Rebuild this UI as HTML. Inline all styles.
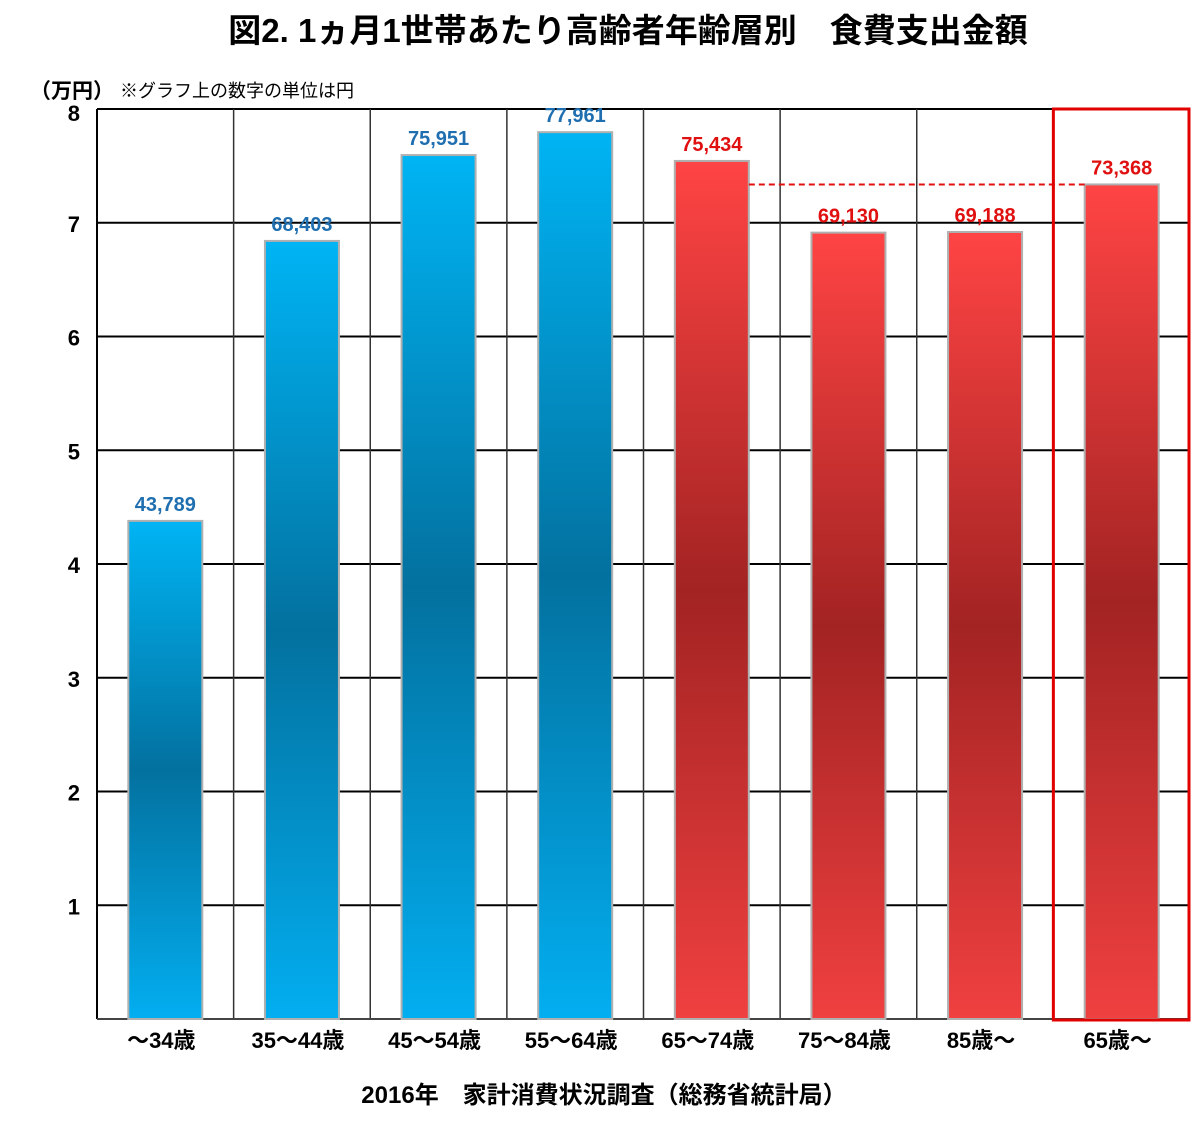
<!DOCTYPE html>
<html><head><meta charset="utf-8"><style>
body{margin:0;background:#fff;font-family:"Liberation Sans","Noto Sans CJK JP",sans-serif;}
</style></head><body>
<svg width="1192" height="1132" xmlns="http://www.w3.org/2000/svg" font-family="Liberation Sans, Noto Sans CJK JP, sans-serif">
<defs>
<linearGradient id="gb" x1="0" y1="0" x2="0" y2="1"><stop offset="0" stop-color="#00b4f4"/><stop offset="0.5" stop-color="#03719f"/><stop offset="1" stop-color="#03aef0"/></linearGradient>
<linearGradient id="gr" x1="0" y1="0" x2="0" y2="1"><stop offset="0" stop-color="#ff4444"/><stop offset="0.5" stop-color="#a32323"/><stop offset="1" stop-color="#f04040"/></linearGradient>
</defs>
<text x="628" y="42" text-anchor="middle" font-size="33" font-weight="bold">図2.  1ヵ月1世帯あたり高齢者年齢層別　食費支出金額</text>
<text x="30" y="98" font-size="21" font-weight="bold">（万円）</text>
<text x="120" y="97" font-size="18">※グラフ上の数字の単位は円</text>
<g id="grid"></g>
<g id="bars"></g>
<text x="604" y="1103" text-anchor="middle" font-size="24" font-weight="bold">2016年　家計消費状況調査（総務省統計局）</text>
</svg>
<script>
const categories=["～34歳","35～44歳","45～54歳","55～64歳","65～74歳","75～84歳","85歳～","65歳～"];
const values=[43789,68403,75951,77961,75434,69130,69188,73368];
const seriesGroup=["young","young","young","young","old","old","old","old"];
const yTicks=[1,2,3,4,5,6,7,8];
const NS="http://www.w3.org/2000/svg";
const L=97,R=1190,T=109,B=1019,YMAX=8;
const cw=(R-L)/categories.length;
function y(v){return B-(v/10000)/YMAX*(B-T);}
function yt(t){return B-t/YMAX*(B-T);}
function cx(i){return L+cw*(i+0.5);}
function mk(tag,attrs,parent){const e=document.createElementNS(NS,tag);for(const k in attrs)e.setAttribute(k,attrs[k]);parent.appendChild(e);return e;}
const grid=document.getElementById('grid'),bars=document.getElementById('bars');
yTicks.forEach(t=>{
 const l=mk('line',{x1:L,x2:R,y1:yt(t),y2:yt(t),stroke:'#000','stroke-width':2},grid);
 
 
 const tx=mk('text',{x:80,y:yt(t)+9+(t===8?3:0),'text-anchor':'end','font-size':22,'font-weight':'bold'},grid);
 tx.textContent=t;
 
 
});
for(let i=1;i<categories.length;i++){
 const l=mk('line',{x1:L+cw*i,x2:L+cw*i,y1:T,y2:B,stroke:'#333','stroke-width':1.5},grid);
 
 
}
const ax=mk('line',{x1:L,x2:L,y1:T,y2:B,stroke:'#000','stroke-width':2},grid);


const bx=mk('line',{x1:L,x2:R,y1:B,y2:B,stroke:'#444','stroke-width':2},grid);


const bw=74;
values.forEach((v,i)=>{
 const young=seriesGroup[i]==='young';
 const r=mk('rect',{x:cx(i)-bw/2,y:y(v),width:bw,height:B-y(v),fill:young?'url(#gb)':'url(#gr)',stroke:'#b0b0b0','stroke-width':2},bars);
 
 
 const lb=mk('text',{x:cx(i),y:y(v)-10,'text-anchor':'middle','font-size':20,'font-weight':'bold',fill:young?'#1f6fb0':'#e01010'},bars);
 lb.textContent=v.toLocaleString('en-US');
 
 
 const xl=mk('text',{x:cx(i)-4,y:B+29,'text-anchor':'middle','font-size':22,'font-weight':'bold'},bars);
 xl.textContent=categories[i];
 
 
});
const last=values.length-1;
const dl=mk('line',{x1:cx(4)+bw/2,x2:cx(last)-bw/2,y1:y(values[last]),y2:y(values[last]),stroke:'#e01010','stroke-width':2,'stroke-dasharray':'6,4'},bars);


const hb=mk('rect',{x:L+cw*last,y:T,width:cw-1,height:B-T+1,fill:'none',stroke:'#e00000','stroke-width':3},bars);


</script>
</body></html>
